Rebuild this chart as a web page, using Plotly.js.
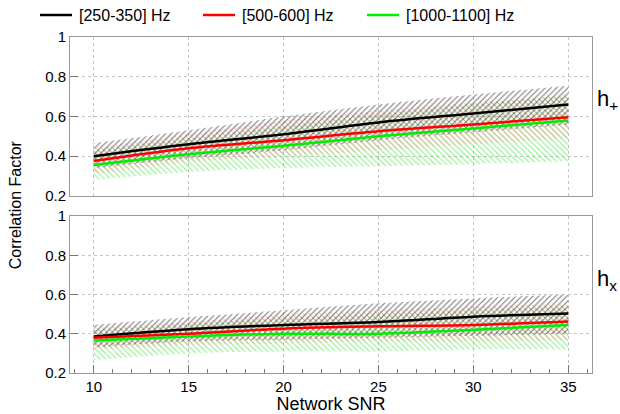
<!DOCTYPE html>
<html><head><meta charset="utf-8">
<script src="https://cdn.plot.ly/plotly-3.0.1.min.js"></script>
<style>html,body{margin:0;padding:0;background:#fff}#c{width:620px;height:414px}</style>
</head><body><div id="c"></div>
<script>
const snr = [10, 15, 20, 25, 30, 35];
const seriesNames = ['[250-350] Hz', '[500-600] Hz', '[1000-1100] Hz'];

// h+ panel
const plusBlack = [0.40, 0.46, 0.51, 0.57, 0.615, 0.66];
const plusBlackHi = [0.465, 0.53, 0.60, 0.66, 0.71, 0.755];
const plusBlackLo = [0.34, 0.39, 0.43, 0.48, 0.52, 0.56];
const plusRed = [0.376, 0.44, 0.48, 0.525, 0.56, 0.596];
const plusRedHi = [0.44, 0.51, 0.58, 0.63, 0.67, 0.70];
const plusRedLo = [0.31, 0.37, 0.40, 0.43, 0.46, 0.49];
const plusGreen = [0.356, 0.41, 0.453, 0.50, 0.54, 0.58];
const plusGreenHi = [0.43, 0.49, 0.55, 0.61, 0.66, 0.71];
const plusGreenLo = [0.28, 0.32, 0.34, 0.35, 0.36, 0.375];

// hx panel
const crossBlack = [0.386, 0.423, 0.445, 0.46, 0.487, 0.504];
const crossBlackHi = [0.445, 0.485, 0.52, 0.555, 0.58, 0.60];
const crossBlackLo = [0.33, 0.36, 0.37, 0.38, 0.39, 0.40];
const crossRed = [0.38, 0.40, 0.426, 0.438, 0.445, 0.462];
const crossRedHi = [0.43, 0.46, 0.50, 0.52, 0.54, 0.55];
const crossRedLo = [0.32, 0.34, 0.35, 0.36, 0.36, 0.37];
const crossGreen = [0.366, 0.386, 0.40, 0.40, 0.42, 0.445];
const crossGreenHi = [0.42, 0.45, 0.48, 0.50, 0.52, 0.54];
const crossGreenLo = [0.266, 0.30, 0.31, 0.31, 0.32, 0.32];

const yTicks = [0.2, 0.4, 0.6, 0.8, 1];
const yTickText = ['0.2', '0.4', '0.6', '0.8', '1'];
const xTicks = [10, 15, 20, 25, 30, 35];

const lineColors = ['#000000', '#ff0000', '#00ee00'];
const hatchColors = ['rgba(70,70,70,0.75)', 'rgba(255,140,140,0.6)', 'rgba(50,230,50,0.6)'];
const hatchShapes = ['/', '\\', '\\'];

const traces = [];
function band(lo, hi, i, ax) {
  traces.push({x: snr, y: lo, xaxis: 'x' + ax, yaxis: 'y' + ax, mode: 'lines', line: {width: 0, shape: 'spline'}, showlegend: false, hoverinfo: 'skip'});
  traces.push({x: snr, y: hi, xaxis: 'x' + ax, yaxis: 'y' + ax, mode: 'lines', line: {width: 0, shape: 'spline'}, fill: 'tonexty', fillcolor: 'rgba(0,0,0,0)',
    fillpattern: {shape: hatchShapes[i], fgcolor: hatchColors[i], bgcolor: 'rgba(0,0,0,0)', size: 4, solidity: 0.25}, showlegend: false, hoverinfo: 'skip'});
}
const panels = [
  {ax: '', m: [plusBlack, plusRed, plusGreen], hi: [plusBlackHi, plusRedHi, plusGreenHi], lo: [plusBlackLo, plusRedLo, plusGreenLo]},
  {ax: '2', m: [crossBlack, crossRed, crossGreen], hi: [crossBlackHi, crossRedHi, crossGreenHi], lo: [crossBlackLo, crossRedLo, crossGreenLo]}
];
panels.forEach(p => {
  [2, 1, 0].forEach(i => band(p.lo[i], p.hi[i], i, p.ax));
});
panels.forEach(p => {
  [0, 1, 2].forEach(i => traces.push({x: snr, y: p.m[i], xaxis: 'x' + p.ax, yaxis: 'y' + p.ax, mode: 'lines', name: seriesNames[i],
    line: {color: lineColors[i], width: 2.5, shape: 'spline'}, showlegend: false}));
});

// Legend row (drawn as key samples + labels, positioned in pixels of the page)
const M = {l: 70, r: 28, t: 37, b: 41};
const plotW = 620 - M.l - M.r, plotH = 414 - M.t - M.b;
const px2x = px => (px - M.l) / plotW;
const px2y = py => 1 + (M.t - py) / plotH;
const keyStarts = [40, 203, 367];
const legendShapes = keyStarts.map((s, i) => ({type: 'line', xref: 'paper', yref: 'paper', x0: px2x(s), x1: px2x(s + 32), y0: px2y(15), y1: px2y(15),
  line: {color: lineColors[i], width: 2.5}}));
const legendLabels = keyStarts.map((s, i) => ({text: seriesNames[i], xref: 'paper', yref: 'paper', x: px2x(s + 37), y: px2y(15),
  xanchor: 'left', yanchor: 'middle', showarrow: false, font: {size: 16}}));

const axisCommon = {linecolor: '#999', linewidth: 1, mirror: true, showline: true, gridcolor: '#c4c4c4', griddash: 'dot', gridwidth: 1,
  ticks: 'inside', tickcolor: '#777', zeroline: false, tickfont: {family: 'Liberation Sans, Arial, sans-serif', size: 15, color: '#000'}};
const layout = {
  width: 620, height: 414, paper_bgcolor: '#fff', plot_bgcolor: '#fff',
  margin: {l: M.l, r: M.r, t: M.t, b: M.b, autoexpand: false},
  font: {family: 'Liberation Sans, Arial, sans-serif', color: '#000'},
  showlegend: false,
  xaxis: Object.assign({}, axisCommon, {domain: [0, 1], range: [8.75, 36.25], tickvals: xTicks, showticklabels: false, anchor: 'y', ticklen: 0}),
  yaxis: Object.assign({}, axisCommon, {domain: [0.527, 1], range: [0.2, 1], tickvals: yTicks, ticktext: yTickText, ticklen: 8, anchor: 'x'}),
  xaxis2: Object.assign({}, axisCommon, {domain: [0, 1], range: [8.75, 36.25], tickvals: xTicks, anchor: 'y2', ticklen: 8,
    minor: {dtick: 1, ticks: 'inside', ticklen: 4, tickcolor: '#777', showgrid: false},
    title: {text: 'Network SNR', font: {size: 18}, standoff: 2}}),
  yaxis2: Object.assign({}, axisCommon, {domain: [0, 0.467], range: [0.2, 1], tickvals: yTicks, ticktext: yTickText, ticklen: 8, anchor: 'x2'}),
  shapes: legendShapes,
  annotations: [
    {text: 'Correlation Factor', xref: 'paper', yref: 'paper', x: -0.105, y: 0.5, textangle: -90, showarrow: false, font: {size: 16}, xanchor: 'center', yanchor: 'middle'},
    {text: 'h<sub>+</sub>', xref: 'paper', yref: 'paper', x: 1.006, y: 0.812, showarrow: false, font: {size: 22}, xanchor: 'left', yanchor: 'middle'},
    {text: 'h<sub>x</sub>', xref: 'paper', yref: 'paper', x: 1.006, y: 0.277, showarrow: false, font: {size: 22}, xanchor: 'left', yanchor: 'middle'}
  ].concat(legendLabels)
};
Plotly.newPlot('c', traces, layout, {displayModeBar: false, staticPlot: true});
</script></body></html>
